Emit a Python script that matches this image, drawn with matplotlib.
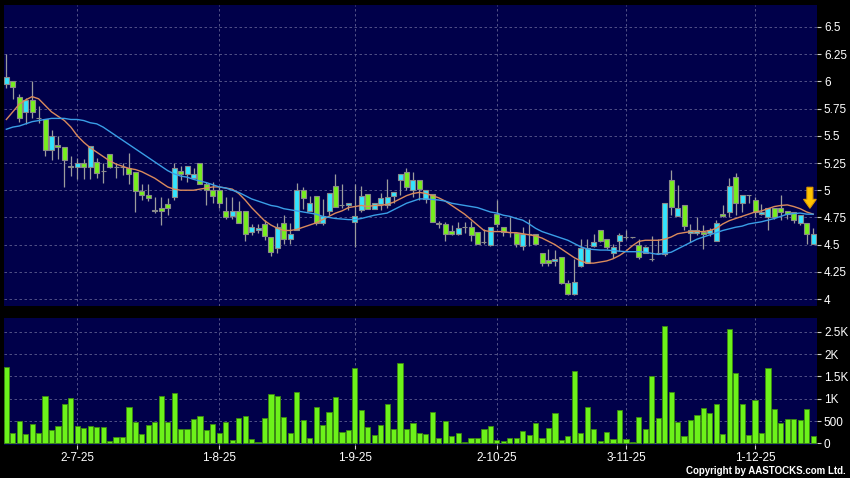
import numpy as np
import matplotlib
matplotlib.use('Agg')
import matplotlib.pyplot as plt
from matplotlib.patches import FancyArrow

plt.rcParams['font.family'] = ['Liberation Sans', 'DejaVu Sans']

# daily OHLC, 16-6-25 .. 12-12-25
opens = [5.98, 6.00, 5.86, 5.72, 5.83, 5.66, 5.65, 5.37, 5.42, 5.40,
         5.21, 5.21, 5.25, 5.21, 5.26, 5.18, 5.33, 5.21, 5.21, 5.20,
         5.17, 4.99, 4.96, 4.81, 4.84, 4.87, 4.94, 5.18, 5.15, 5.11,
         5.25, 5.06, 5.00, 5.00, 4.81, 4.76, 4.81, 4.81, 4.62, 4.63,
         4.69, 4.57, 4.465, 4.70, 4.55, 4.63, 5.00, 4.81, 4.95, 4.70,
         4.81, 5.04, 4.86, 4.86, 4.71, 4.82, 4.965, 4.825, 4.875, 4.86,
         4.95, 5.09, 5.17, 5.00, 5.09, 4.915, 4.965, 4.70, 4.69, 4.625,
         4.60, 4.665, 4.665, 4.62, 4.52, 4.50, 4.78, 4.665, 4.62, 4.61,
         4.49, 4.60, 4.60, 4.42, 4.36, 4.345, 4.39, 4.145, 4.045, 4.30,
         4.335, 4.49, 4.63, 4.55, 4.425, 4.53, 4.57, 4.57, 4.50, 4.425,
         4.37, 4.425, 4.41, 5.09, 4.76, 4.865, 4.61, 4.61, 4.62, 4.61,
         4.535, 4.78, 4.80, 5.12, 4.885, 4.955, 4.91, 4.78, 4.75, 4.835,
         4.84, 4.81, 4.80, 4.70, 4.70, 4.51]
highs = [6.25, 6.00, 5.88, 5.85, 6.00, 5.77, 5.65, 5.55, 5.50, 5.40,
         5.31, 5.30, 5.29, 5.41, 5.30, 5.25, 5.33, 5.25, 5.25, 5.34,
         5.17, 5.06, 5.06, 4.94, 4.94, 4.93, 5.25, 5.22, 5.22, 5.20,
         5.25, 5.08, 5.08, 5.03, 4.94, 4.94, 4.90, 4.81, 4.69, 4.69,
         4.73, 4.57, 4.70, 4.77, 4.70, 5.07, 5.03, 4.95, 4.95, 4.92,
         4.97, 5.15, 5.06, 4.885, 5.06, 5.04, 4.965, 4.88, 4.97, 5.10,
         4.985, 5.145, 5.20, 5.17, 5.09, 5.00, 4.965, 4.72, 4.71, 4.68,
         4.71, 4.71, 4.72, 4.62, 4.64, 4.665, 4.91, 4.665, 4.75, 4.61,
         4.665, 4.74, 4.60, 4.42, 4.46, 4.45, 4.39, 4.175, 4.37, 4.55,
         4.55, 4.60, 4.63, 4.55, 4.51, 4.61, 4.63, 4.57, 4.55, 4.49,
         4.58, 4.55, 4.88, 5.19, 5.05, 4.865, 4.69, 4.75, 4.68, 4.65,
         4.73, 4.86, 5.11, 5.16, 4.955, 4.955, 4.94, 4.87, 4.835, 4.835,
         4.96, 4.81, 4.80, 4.77, 4.70, 4.65]
lows = [5.94, 5.84, 5.63, 5.61, 5.66, 5.62, 5.31, 5.28, 5.29, 5.03,
        5.13, 5.10, 5.10, 5.10, 5.11, 5.07, 5.20, 5.11, 5.14, 5.06,
        4.80, 4.91, 4.90, 4.79, 4.68, 4.77, 4.91, 5.09, 5.08, 5.11,
        5.06, 4.86, 4.88, 4.84, 4.74, 4.74, 4.70, 4.53, 4.59, 4.61,
        4.54, 4.40, 4.42, 4.51, 4.51, 4.63, 4.83, 4.81, 4.68, 4.68,
        4.77, 4.85, 4.84, 4.82, 4.48, 4.80, 4.825, 4.825, 4.82, 4.84,
        4.88, 4.96, 5.00, 4.94, 4.91, 4.88, 4.71, 4.65, 4.53, 4.59,
        4.59, 4.61, 4.53, 4.51, 4.51, 4.49, 4.66, 4.58, 4.57, 4.48,
        4.45, 4.49, 4.51, 4.30, 4.30, 4.30, 4.14, 4.04, 4.04, 4.29,
        4.33, 4.48, 4.52, 4.46, 4.38, 4.44, 4.55, 4.56, 4.37, 4.42,
        4.35, 4.41, 4.40, 4.77, 4.76, 4.63, 4.52, 4.59, 4.46, 4.58,
        4.53, 4.75, 4.75, 4.77, 4.80, 4.88, 4.75, 4.77, 4.63, 4.74,
        4.73, 4.74, 4.70, 4.68, 4.51, 4.51]
closes = [6.04, 5.945, 5.66, 5.83, 5.72, 5.66, 5.37, 5.50, 5.40, 5.28,
          5.22, 5.25, 5.21, 5.41, 5.155, 5.18, 5.21, 5.21, 5.21, 5.15,
          4.99, 4.96, 4.93, 4.82, 4.81, 4.84, 5.20, 5.15, 5.22, 5.15,
          5.06, 5.00, 4.95, 4.88, 4.75, 4.81, 4.70, 4.60, 4.66, 4.65,
          4.58, 4.43, 4.665, 4.55, 4.60, 5.00, 4.925, 4.88, 4.70, 4.76,
          4.97, 4.85, 4.86, 4.885, 4.765, 4.95, 4.825, 4.88, 4.925, 4.94,
          4.985, 5.145, 5.03, 5.09, 5.01, 5.00, 4.71, 4.69, 4.60, 4.60,
          4.65, 4.665, 4.59, 4.51, 4.52, 4.665, 4.69, 4.62, 4.62, 4.51,
          4.60, 4.60, 4.51, 4.335, 4.33, 4.365, 4.145, 4.045, 4.155, 4.465,
          4.47, 4.52, 4.535, 4.48, 4.475, 4.59, 4.57, 4.57, 4.39, 4.48,
          4.365, 4.425, 4.88, 4.85, 4.84, 4.67, 4.63, 4.63, 4.60, 4.63,
          4.70, 4.76, 5.04, 4.88, 4.955, 4.955, 4.80, 4.80, 4.835, 4.75,
          4.80, 4.78, 4.73, 4.77, 4.60, 4.60]
volume = [1720, 220, 500, 210, 440, 220, 1050, 300, 390, 890,
          1020, 380, 350, 390, 360, 360, 50, 150, 140, 820,
          480, 210, 420, 480, 1070, 470, 1120, 330, 330, 550,
          610, 300, 430, 230, 480, 70, 570, 610, 100, 40,
          570, 1110, 1050, 580, 230, 1150, 520, 120, 810, 410,
          700, 1040, 250, 300, 1690, 740, 360, 180, 400, 890,
          330, 1800, 330, 460, 240, 210, 700, 130, 510, 170,
          240, 40, 120, 110, 330, 380, 70, 50, 130, 130,
          270, 180, 450, 120, 350, 670, 70, 160, 1610, 240,
          820, 330, 50, 260, 100, 740, 100, 40, 580, 320,
          1500, 570, 2620, 1160, 480, 170, 520, 640, 790, 680,
          870, 210, 2570, 1580, 890, 190, 960, 240, 1690, 760,
          460, 540, 540, 520, 760, 160]
ma10 = [5.65, 5.72, 5.79, 5.83, 5.86, 5.84, 5.78, 5.72, 5.68, 5.64,
        5.58, 5.50, 5.44, 5.39, 5.35, 5.31, 5.27, 5.24, 5.22, 5.20,
        5.19, 5.17, 5.14, 5.11, 5.07, 5.03, 5.01, 5.00, 5.00, 5.00,
        5.01, 5.02, 5.03, 5.03, 5.02, 5.01, 4.97, 4.91, 4.84, 4.78,
        4.72, 4.68, 4.65, 4.63, 4.63, 4.64, 4.66, 4.68, 4.70, 4.73,
        4.76, 4.79, 4.81, 4.84, 4.85, 4.86, 4.85, 4.86, 4.86, 4.87,
        4.89, 4.92, 4.95, 4.97, 4.98, 4.97, 4.95, 4.93, 4.90, 4.86,
        4.82, 4.78, 4.73, 4.68, 4.63, 4.62, 4.62, 4.62, 4.61, 4.61,
        4.60, 4.59, 4.58, 4.56, 4.53, 4.50, 4.46, 4.42, 4.38, 4.35,
        4.33, 4.33, 4.34, 4.35, 4.37, 4.40, 4.44, 4.49, 4.53, 4.54,
        4.54, 4.54, 4.55, 4.57, 4.60, 4.61, 4.62, 4.62, 4.62, 4.63,
        4.65, 4.69, 4.72, 4.74, 4.76, 4.78, 4.80, 4.81, 4.83, 4.85,
        4.86, 4.865, 4.85, 4.83, 4.80, 4.78]
ma20 = [5.56, 5.58, 5.59, 5.61, 5.63, 5.64, 5.65, 5.66, 5.66, 5.66,
        5.65, 5.65, 5.64, 5.62, 5.61, 5.58, 5.54, 5.50, 5.46, 5.42,
        5.38, 5.34, 5.30, 5.26, 5.22, 5.18, 5.15, 5.13, 5.12, 5.10,
        5.085, 5.07, 5.05, 5.03, 5.02, 5.00, 4.98, 4.95, 4.92, 4.90,
        4.88, 4.86, 4.85, 4.83, 4.82, 4.81, 4.80, 4.79, 4.78, 4.76,
        4.75, 4.74, 4.735, 4.73, 4.73, 4.74, 4.755, 4.77, 4.78, 4.79,
        4.82, 4.85, 4.88, 4.90, 4.92, 4.92, 4.915, 4.91, 4.90, 4.88,
        4.87, 4.86, 4.85, 4.84, 4.82, 4.80, 4.79, 4.77, 4.76, 4.74,
        4.725, 4.69, 4.65, 4.62, 4.60, 4.58, 4.56, 4.54, 4.51, 4.48,
        4.46, 4.455, 4.45, 4.45, 4.445, 4.44, 4.435, 4.435, 4.435, 4.43,
        4.42, 4.41, 4.42, 4.43, 4.46, 4.49, 4.52, 4.55, 4.57, 4.59,
        4.61, 4.63, 4.645, 4.66, 4.67, 4.69, 4.70, 4.71, 4.725, 4.74,
        4.76, 4.78, 4.785, 4.79, 4.78, 4.78]

date_pos = [11, 33, 54, 76, 96, 116]
date_labels = ['2-7-25', '1-8-25', '1-9-25', '2-10-25', '3-11-25', '1-12-25']
price_ticks = [4, 4.25, 4.5, 4.75, 5, 5.25, 5.5, 5.75, 6, 6.25, 6.5]
price_labels = ['4', '4.25', '4.5', '4.75', '5', '5.25', '5.5', '5.75', '6', '6.25', '6.5']
vol_ticks = [0, 500, 1000, 1500, 2000, 2500]
vol_labels = ['0', '500', '1K', '1.5K', '2K', '2.5K']

navy = '#00004A'
up_col = '#33E4FF'
down_col = '#76EE1E'
grid_kw = dict(color='#5E5E90', linestyle=(0, (3, 3)), linewidth=0.6)

x = np.arange(len(closes))
o = np.array(opens)
c = np.array(closes)

fig = plt.figure(figsize=(8.5, 4.78), dpi=100, facecolor='black')
ax1 = fig.add_axes([4/850, 1-306/478, 813/850, 301/478])
ax2 = fig.add_axes([4/850, 1-445/478, 813/850, 127/478])

for ax in (ax1, ax2):
    ax.set_facecolor(navy)
    for s in ax.spines.values():
        s.set_visible(False)
    ax.set_xlim(-0.36, 125.6)
    ax.set_xticks(date_pos)
    ax.yaxis.tick_right()
    ax.tick_params(axis='y', colors='#D0D0D0', labelcolor='white', length=3, width=0.8, pad=2, labelsize=8.5)
    ax.grid(True, **grid_kw)
    ax.set_axisbelow(True)

# candles
ax1.vlines(x, lows, highs, color='#9C9C9C', linewidth=0.9, zorder=2)
cols = [up_col if cc >= oo else down_col for oo, cc in zip(o, c)]
ax1.bar(x, np.abs(c - o), bottom=np.minimum(o, c), width=0.78, color=cols,
        edgecolor='#8A8A8A', linewidth=0.8, zorder=3)
ax1.plot(x, ma10, color='#DA8A5C', linewidth=1.0, zorder=4)
ax1.plot(x, ma20, color='#3A9EE6', linewidth=1.0, zorder=4)
ax1.add_patch(FancyArrow(124.5, 5.027, 0, -0.193, width=0.93, head_width=1.97,
                         head_length=0.082, length_includes_head=True,
                         facecolor='#FFC400', edgecolor='#E09A00', linewidth=0.8, zorder=5))
ax1.set_ylim(3.936, 6.702)
ax1.set_yticks(price_ticks)
ax1.set_yticklabels(price_labels)
ax1.tick_params(axis='x', length=0, labelbottom=False)

# volume
ax2.bar(x, volume, width=0.8, color='#6CF21A', edgecolor='#3C8A10', linewidth=0.6, zorder=3)
ax2.set_ylim(-38, 2809)
ax2.set_yticks(vol_ticks)
ax2.set_yticklabels(vol_labels)
ax2.set_xticklabels(date_labels)
ax2.tick_params(axis='x', colors='#D0D0D0', labelcolor='white', length=3, width=0.8, pad=2, labelsize=8.5)

fig.text(846/850, 1-471.5/478, 'Copyright by AASTOCKS.com Ltd.', ha='right', va='center',
         color='white', fontsize=7, fontweight='bold')

plt.savefig('out.png', dpi=100, facecolor='black')
